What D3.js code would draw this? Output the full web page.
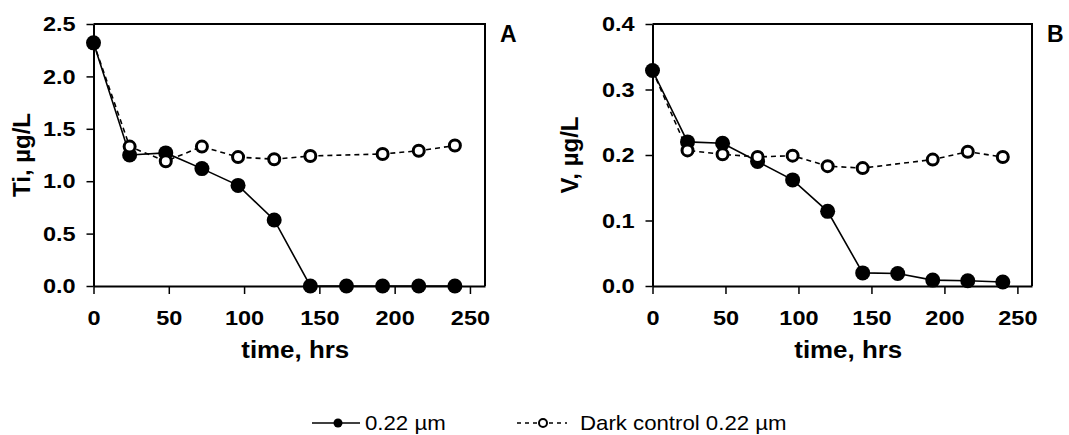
<!DOCTYPE html>
<html><head><meta charset="utf-8">
<script src="https://cdn.jsdelivr.net/npm/d3@7"></script>
<style>
html,body{margin:0;padding:0;background:#fff;}
text{font-family:"Liberation Sans",Arial,sans-serif;fill:#000;}
</style></head>
<body><svg id="c" width="1069" height="435"></svg>
<script>
// ---- data ----
const timeLight = [0, 24, 48, 72, 96, 120, 144, 168, 192, 216, 240];
const timeDark  = [0, 24, 48, 72, 96, 120, 144, 192, 216, 240];
const tiLight = [2.32, 1.25, 1.27, 1.12, 0.96, 0.63, 0.0, 0.0, 0.0, 0.0, 0.0];
const tiDark  = [2.32, 1.33, 1.19, 1.33, 1.23, 1.21, 1.24, 1.26, 1.29, 1.34];
const vLight  = [0.329, 0.220, 0.218, 0.190, 0.162, 0.114, 0.020, 0.019, 0.009, 0.008, 0.006];
const vDark   = [0.329, 0.207, 0.201, 0.197, 0.199, 0.183, 0.180, 0.193, 0.205, 0.197];
const xTicks = [0, 50, 100, 150, 200, 250];
const tiTicks = [0, 0.5, 1.0, 1.5, 2.0, 2.5];
const vTicks = [0, 0.1, 0.2, 0.3, 0.4];
const xTitle = "time, hrs";
const legendLabels = ["0.22 µm", "Dark control 0.22 µm"];

const SX = 1.12; // horizontal stretch of the reference's lettering
const svg = d3.select("#c");

function panel(cfg){
  const g = svg.append("g");
  const x = d3.scaleLinear().domain([0,260]).range([cfg.left, cfg.right]);
  const y = d3.scaleLinear().domain(cfg.yDomain).range([cfg.bottom, cfg.top]);

  g.append("path").attr("d", `M${cfg.left},${cfg.top}H${cfg.right}V${cfg.bottom}`)
    .attr("fill","none").attr("stroke","#000").attr("stroke-width",2);

  const xa = g.append("g").attr("transform",`translate(0,${cfg.bottom})`)
    .call(d3.axisBottom(x).tickValues(xTicks).tickSize(8).tickSizeOuter(0).tickPadding(16).tickFormat(d3.format("d")));
  const ya = g.append("g").attr("transform",`translate(${cfg.left},0)`)
    .call(d3.axisLeft(y).tickValues(cfg.yTicks).tickSize(7).tickSizeOuter(0).tickPadding(9).tickFormat(d3.format(".1f")));
  [xa,ya].forEach(a=>{
    a.select(".domain").attr("stroke","#000").attr("stroke-width",2);
    a.selectAll(".tick line").attr("stroke","#000").attr("stroke-width",1.5);
    a.selectAll("text").attr("font-size",21).attr("font-weight","bold").attr("fill","#000")
      .attr("transform",`scale(${SX},1)`)
      .style("font-family",'"Liberation Sans",Arial,sans-serif');
  });

  g.append("text").attr("transform",`translate(${(cfg.left+cfg.right)/2+6},${cfg.bottom+72}) scale(1.08,1)`)
    .attr("text-anchor","middle").attr("font-size",24).attr("font-weight","bold").text(xTitle);
  g.append("text").attr("transform",`translate(${cfg.yTitleX},${(cfg.top+cfg.bottom)/2}) rotate(-90)`)
    .attr("text-anchor","middle").attr("font-size",24).attr("font-weight","bold").text(cfg.yTitle);
  g.append("text").attr("x",cfg.right+15).attr("y",cfg.top+18)
    .attr("font-size",23).attr("font-weight","bold").text(cfg.letter);

  const lightPts = timeLight.map((t,i)=>[t,cfg.light[i]]);
  const darkPts = timeDark.map((t,i)=>[t,cfg.dark[i]]);
  const line = d3.line().x(d=>x(d[0])).y(d=>y(d[1]));

  g.append("path").attr("d",line(lightPts)).attr("fill","none").attr("stroke","#000").attr("stroke-width",1.6);
  g.append("path").attr("d",line(darkPts)).attr("fill","none").attr("stroke","#000").attr("stroke-width",1.6)
    .attr("stroke-dasharray","5,4");
  g.selectAll(".fm").data(lightPts).enter().append("circle")
    .attr("cx",d=>x(d[0])).attr("cy",d=>y(d[1])).attr("r",7.5).attr("fill","#000");
  g.selectAll(".om").data(darkPts.slice(1)).enter().append("circle")
    .attr("cx",d=>x(d[0])).attr("cy",d=>y(d[1])).attr("r",5.5)
    .attr("fill","#fff").attr("stroke","#000").attr("stroke-width",3);
}

panel({left:93.5,right:485,top:24,bottom:286,yDomain:[0,2.5],yTicks:tiTicks,
  yTitle:"Ti, µg/L",yTitleX:30,letter:"A",light:tiLight,dark:tiDark});
panel({left:652.5,right:1032,top:24,bottom:286,yDomain:[0,0.4],yTicks:vTicks,
  yTitle:"V, µg/L",yTitleX:578,letter:"B",light:vLight,dark:vDark});

// legend
const lg = svg.append("g");
lg.append("line").attr("x1",312).attr("x2",360).attr("y1",423).attr("y2",423).attr("stroke","#000").attr("stroke-width",1.6);
lg.append("circle").attr("cx",338).attr("cy",423).attr("r",4.5).attr("fill","#000");
lg.append("text").attr("transform","translate(365,430) scale(1.1,1)").attr("font-size",20.2).text(legendLabels[0]);
lg.append("line").attr("x1",517).attr("x2",567).attr("y1",423).attr("y2",423).attr("stroke","#000").attr("stroke-width",1.6).attr("stroke-dasharray","4,4");
lg.append("circle").attr("cx",543).attr("cy",423).attr("r",4).attr("fill","#fff").attr("stroke","#000").attr("stroke-width",2);
lg.append("text").attr("transform","translate(580,430) scale(1.1,1)").attr("font-size",20.2).text(legendLabels[1]);
</script></body></html>
